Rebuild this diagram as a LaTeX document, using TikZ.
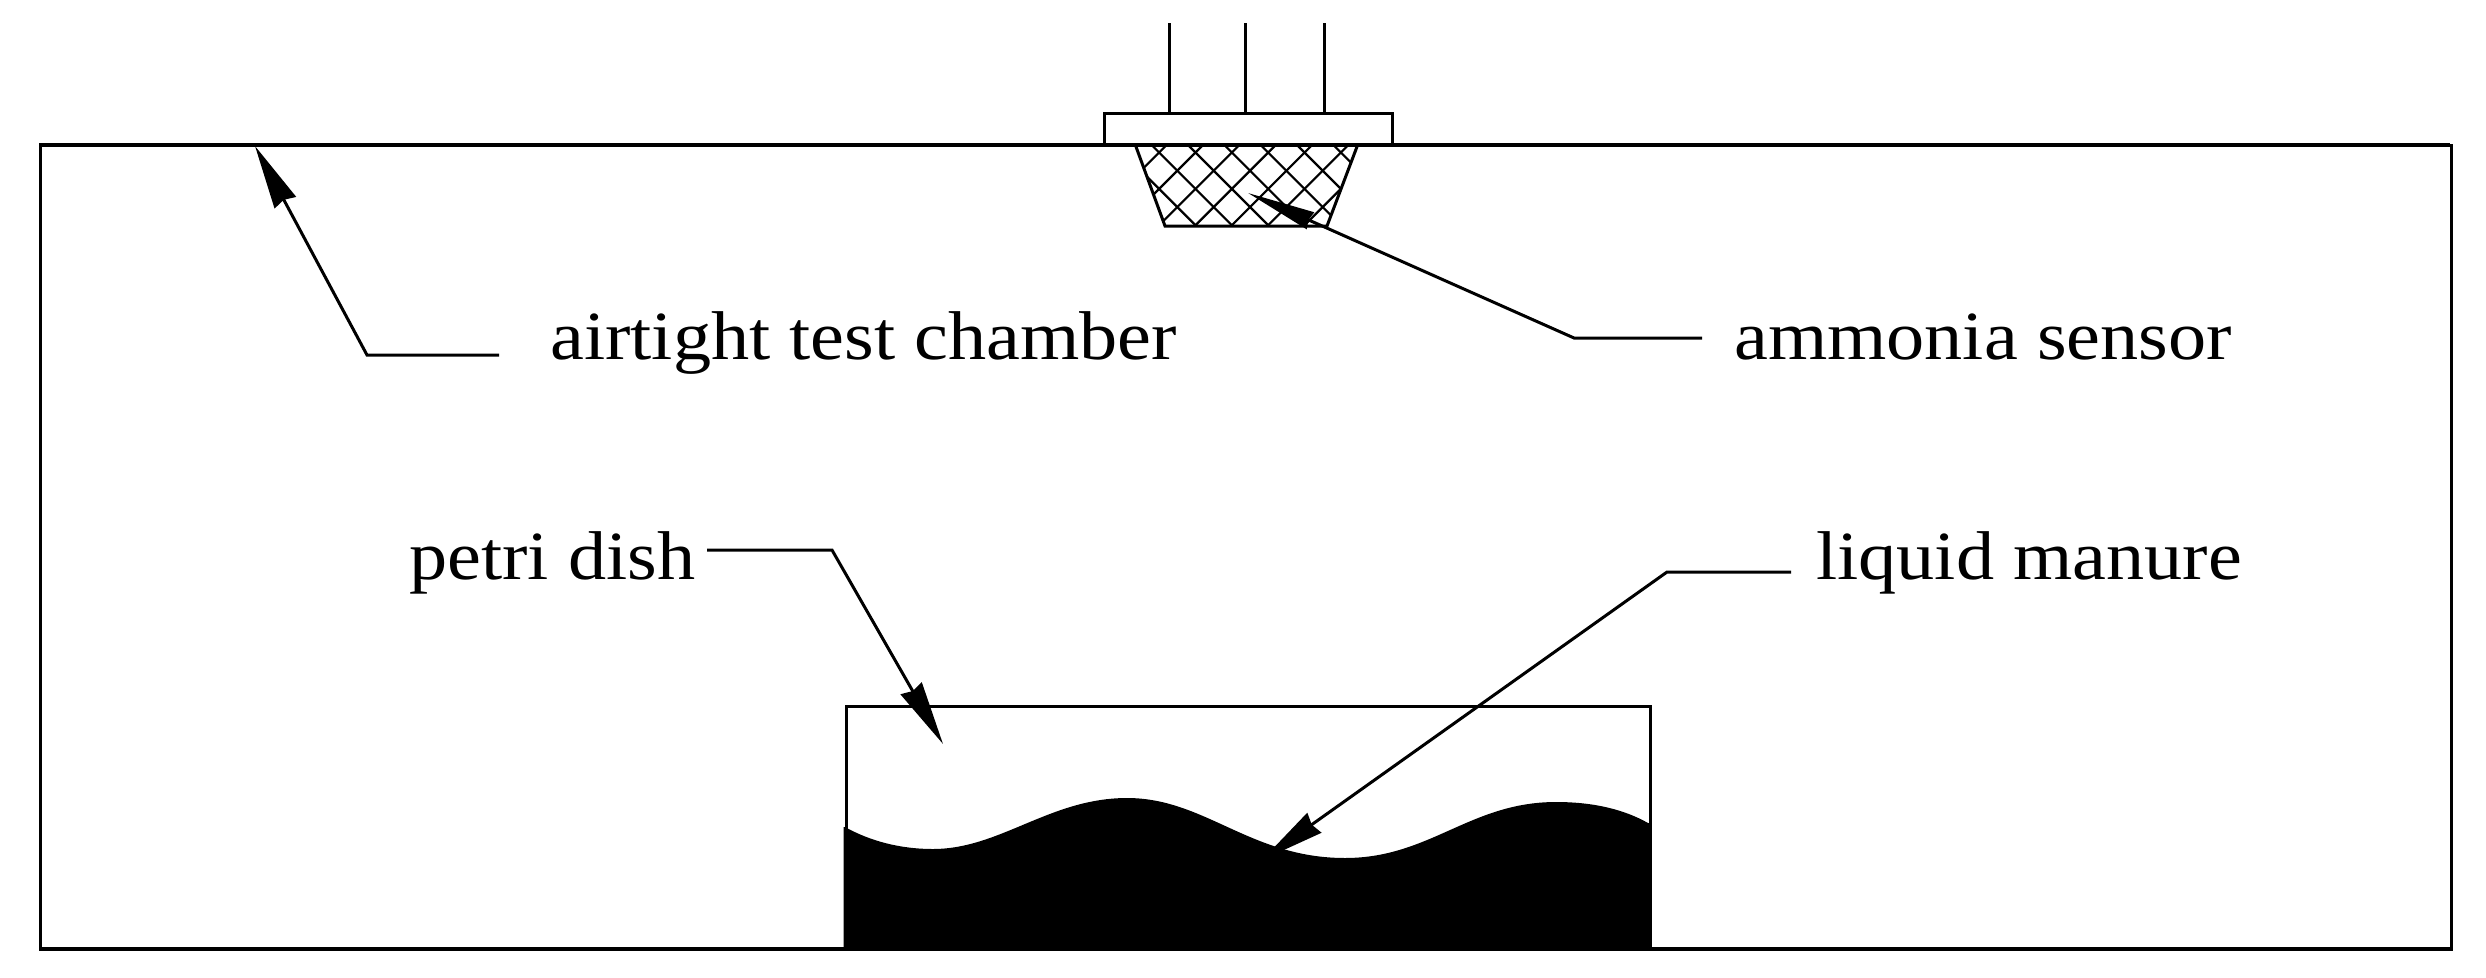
\documentclass[tikz,border=0pt]{standalone}
\usepackage{fontspec}
\setmainfont[FakeStretch=1.105]{Liberation Serif}
\usetikzlibrary{arrows.meta}
\tikzset{
  frame/.style={draw=black,line width=3pt,fill=white,line join=miter},
  pin/.style={draw=black,line width=3pt},
  hatch/.style={draw=black,line width=2.2pt},
  leader/.style={draw=black,line width=3pt,line join=miter,
     -{Stealth[length=64pt,width=24pt,inset=3pt,sep=0pt]}},
  leadernarrow/.style={draw=black,line width=3pt,line join=miter,
     -{Stealth[length=68pt,width=18pt,inset=2pt,sep=0pt]}},
  label/.style={anchor=base west,inner sep=0pt,font=\fontsize{69}{69}\selectfont,text=black}
}
\begin{document}
\begin{tikzpicture}[x=1pt,y=-1pt]
\useasboundingbox (0,0) rectangle (2486,977);
\fill[white] (0,0) rectangle (2486,977);
% chamber
\node[frame,draw,inner sep=0pt,minimum width=2411pt,minimum height=804pt,anchor=north west] (chamber) at (39,144) {};
% sensor head
\foreach \x in {1169,1245,1324} \draw[pin] (\x,23) -- (\x,112);
\node[frame,inner sep=0pt,minimum width=288pt,minimum height=32pt,anchor=north west] (head) at (1103,112) {};
\draw[pin] (39,144) -- (2450,144);
% sensor mesh
\begin{scope}
  \clip (1135,144) -- (1358,144) -- (1327,226) -- (1165,226) -- cycle;
  \foreach \k in {-8,...,16} {
    \pgfmathsetmacro{\c}{1348+\k*36.35}
    \pgfmathsetmacro{\d}{1006.6+\k*36.35}
    \draw[hatch] (\c-144,144) -- (\c-226,226);
    \draw[hatch] (\d+144,144) -- (\d+226,226);
  }
\end{scope}
\draw[hatch,line width=3pt] (1135,144) -- (1165,226) -- (1327,226) -- (1358,144);
% dish
\node[frame,inner sep=0pt,minimum width=804pt,minimum height=243pt,anchor=north west] (dish) at (845,705) {};
\fill[black] (843.5,827) -- (845,827) .. controls (870,841) and (900,849) .. (933,849)
  .. controls (1000,849) and (1050,798) .. (1127,798)
  .. controls (1205,798) and (1250,858) .. (1345,858)
  .. controls (1430,858) and (1470,802) .. (1556,802)
  .. controls (1595,802) and (1625,810) .. (1648,823)
  -- (1650.5,823) -- (1650.5,948) -- (843.5,948) -- cycle;
\draw[pin] (39,948) -- (2450,948);
% labels
\node[label] (air) at (550,359) {airtight test chamber};
\node[label] (amm) at (1734,359) {ammonia sensor};
\node[label] (pet) at (409,579) {petri dish};
\node[label] (liq) at (1816,579) {liquid manure};
% connector points
\coordinate (a0) at (499,355); \coordinate (a1) at (367,355); \coordinate (a2) at (255,146);
\coordinate (s0) at (1702,338); \coordinate (s1) at (1574,338); \coordinate (s2) at (1248,193);
\coordinate (p0) at (707,550); \coordinate (p1) at (832,550); \coordinate (p2) at (943,744);
\coordinate (l0) at (1791,572); \coordinate (l1) at (1667,572); \coordinate (l2) at (1262,860);
\draw[leader] (a0) -- (a1) -- (a2);
\draw[leadernarrow] (s0) -- (s1) -- (s2);
\draw[leader] (p0) -- (p1) -- (p2);
\draw[leader] (l0) -- (l1) -- (l2);
\end{tikzpicture}
\end{document}
